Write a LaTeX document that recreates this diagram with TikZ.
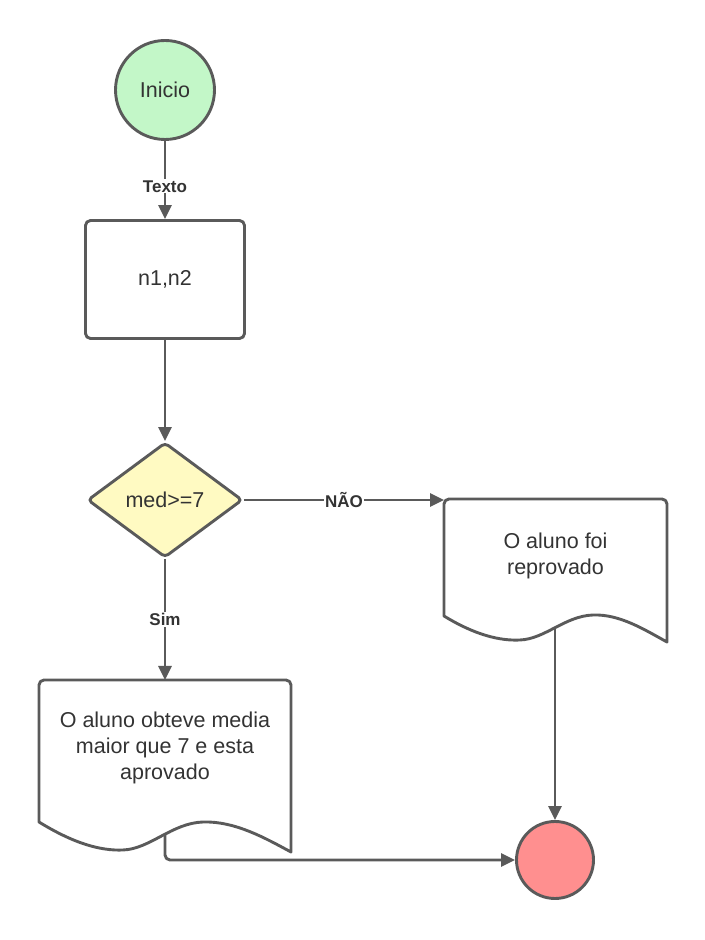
\documentclass[tikz,border=0pt]{standalone}
\usepackage{fontspec}
\setmainfont{Liberation Sans}
\usetikzlibrary{shapes.geometric,arrows.meta}
\definecolor{linegray}{HTML}{5A5A5A}
\definecolor{textgray}{HTML}{333333}
\definecolor{startgreen}{HTML}{C3F7C8}
\definecolor{decyellow}{HTML}{FFFAC2}
\definecolor{endred}{HTML}{FF8F8F}
\begin{document}
\begin{tikzpicture}[>={Triangle[length=14bp,width=13bp]},line join=round,
  every node/.style={text=textgray,font=\fontsize{21.5bp}{26bp}\selectfont},
  box/.style={draw=linegray,line width=2.9bp},
  line/.style={draw=linegray,line width=2.9bp},
  lbl/.style={fill=white,inner sep=1bp,font=\bfseries\fontsize{17bp}{20bp}\selectfont}]
%%
\useasboundingbox (0bp,0bp) rectangle (705bp,940bp);
\node (inicio) at (165bp,850bp) [box,circle,fill=startgreen,minimum size=99bp,inner sep=0pt] {Inicio};
  \node (entrada) at (165bp,660.5bp) [box,rounded corners=5bp,minimum width=159bp,minimum height=118bp] {n1,n2};
  \node (decisao) at (165bp,440bp) [box,diamond,rounded corners=4bp,fill=decyellow,minimum width=155bp,minimum height=115bp,inner sep=0pt] {med>=7};
  \node (fim) at (555bp,80bp) [box,circle,fill=endred,minimum size=77bp,inner sep=0pt] {};
%
\draw [box] (444bp,324bp) [rounded corners=5bp] -- (444bp,441bp) -- (667bp,441bp) [sharp corners] -- (667bp,298bp)
  .. controls (645bp,310bp) and (620bp,326bp) .. (593bp,325bp)
  .. controls (565bp,324bp) and (545bp,301bp) .. (520bp,300bp)
  .. controls (500bp,299bp) and (475bp,305bp) .. (444bp,324bp) -- cycle;
  \node (reprovado) at (555.5bp,384.5bp) [align=center] {O aluno foi\\reprovado};
  \coordinate (reprovin) at (444bp,440bp);
  \coordinate (reprovout) at (555bp,312.5bp);
%
\draw [box] (39bp,118bp) [rounded corners=5bp] -- (39bp,260bp) -- (291bp,260bp) [sharp corners] -- (291bp,88bp)
  .. controls (265bp,102bp) and (235bp,119bp) .. (203bp,118bp)
  .. controls (172bp,117bp) and (150bp,91bp) .. (123bp,90bp)
  .. controls (100bp,89bp) and (73bp,97bp) .. (39bp,118bp) -- cycle;
  \node (aprovado) at (165bp,192bp) [align=center] {O aluno obteve media\\maior que 7 e esta\\aprovado};
  \coordinate (aprovin) at (165bp,260bp);
  \coordinate (aprovout) at (165bp,105bp);
%
\draw [line,->] (inicio) -- node[lbl,pos=0.58] {Texto} (entrada);
  \draw [line,->] (entrada) -- (decisao);
  \draw [line,->] (decisao.east) -- node[lbl] {NÃO} (reprovin);
  \draw [line,->] (decisao) -- node[lbl] {Sim} (aprovin);
  \draw [line,->] (reprovout) -- (fim);
  \draw [line,->,rounded corners=5bp] (aprovout) |- (fim);
%
\end{tikzpicture}
\end{document}
